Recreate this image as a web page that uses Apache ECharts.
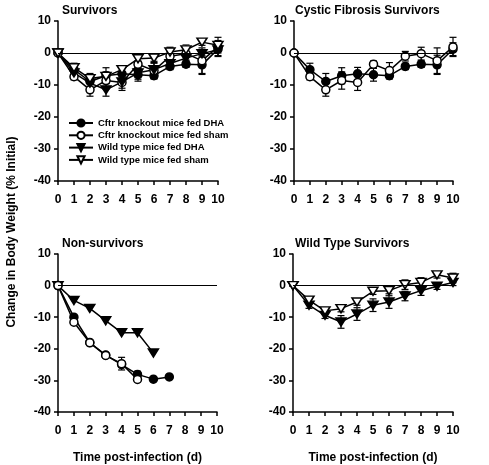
<!DOCTYPE html>
<html>
<head>
<meta charset="utf-8">
<script src="https://cdn.jsdelivr.net/npm/echarts@6/dist/echarts.min.js"></script>
<style>html,body{margin:0;padding:0;background:#fff;}#c{width:489px;height:465px;}</style>
</head>
<body>
<div id="c"></div>
<script>
const days = [0,1,2,3,4,5,6,7,8,9,10];
const yTicks = [10,0,-10,-20,-30,-40];
const names = ['Cftr knockout mice fed DHA','Cftr knockout mice fed sham','Wild type mice fed DHA','Wild type mice fed sham'];
const titles = ['Survivors','Cystic Fibrosis Survivors','Non-survivors','Wild Type Survivors'];

// Survivors (means and SEM)
const cfDha     = [0,-5.2,-8.9,-7.1,-6.5,-6.8,-7.1,-4.2,-3.5,-3.7,1.2];
const cfDhaErr  = [0,2.0,2.5,2.5,2.0,2.0,1.0,1.0,1.0,3.0,2.0];
const cfSham    = [0,-7.4,-11.5,-8.6,-9.2,-3.5,-5.5,-1.0,-0.2,-2.4,1.9];
const cfShamErr = [0,1.0,2.0,2.7,2.5,1.0,2.5,1.5,2.0,4.0,3.0];
const wtDha     = [0,-6.2,-9.4,-11.5,-9.0,-6.2,-5.2,-3.3,-1.6,-0.2,1.0];
const wtDhaErr  = [0,1.0,1.0,2.0,2.0,2.0,2.0,1.5,1.5,1.0,1.0];
const wtSham    = [0,-4.6,-8.0,-7.3,-5.2,-1.8,-1.6,0.3,1.0,3.4,2.4];
const wtShamErr = [0,1.0,1.0,1.0,1.0,1.0,1.0,1.5,1.5,1.0,1.5];

// Non-survivors
const nsCfDha     = [0,-10.0,-18.0,-22.0,-25.0,-28.1,-29.6,-28.9];
const nsCfDhaErr  = [0,0,0,0,0,1.0,0,0];
const nsCfSham    = [0,-11.6,-18.1,-22.1,-24.7,-29.7];
const nsCfShamErr = [0,0,0,0,2.0,0];
const nsWtDha     = [0,-4.7,-7.2,-11.1,-14.9,-14.9,-21.3];
const nsWtDhaErr  = [0,0,0,0,0,0,0];

const grids = [
  {left:58, top:21, width:160, height:160},
  {left:294, top:21, width:159, height:160},
  {left:58, top:254, width:159, height:160},
  {left:293, top:254, width:160, height:160}
];
const font = 'Liberation Sans, Arial, sans-serif';

const styles = {
  0: {symbol:'circle', fill:'#000', rotate:0, size:8},
  1: {symbol:'circle', fill:'#fff', rotate:0, size:8},
  2: {symbol:'triangle', fill:'#000', rotate:180, size:[10,8]},
  3: {symbol:'triangle', fill:'#fff', rotate:180, size:[10,8]}
};

function pairs(vals){ return vals.map((v,i)=>[days[i], v]); }

const series = [];
function addSeries(gi, si, vals, errs, withZero){
  const st = styles[si];
  series.push({
    type:'custom', xAxisIndex:gi, yAxisIndex:gi, z:2, silent:true,
    data: vals.map((v,i)=>[days[i], v, errs[i]]),
    renderItem: function(params, api){
      const x = api.value(0), y = api.value(1), e = api.value(2);
      if (!e) return {type:'group', children:[]};
      const top = api.coord([x, y + e]);
      const bot = api.coord([x, y - e]);
      const w = 3.5;
      const ls = {stroke:'#000', lineWidth:1.2};
      return {type:'group', children:[
        {type:'line', shape:{x1:top[0], y1:top[1], x2:bot[0], y2:bot[1]}, style:ls},
        {type:'line', shape:{x1:top[0]-w, y1:top[1], x2:top[0]+w, y2:top[1]}, style:ls},
        {type:'line', shape:{x1:bot[0]-w, y1:bot[1], x2:bot[0]+w, y2:bot[1]}, style:ls}
      ]};
    }
  });
  const s = {
    type:'line', name:names[si], xAxisIndex:gi, yAxisIndex:gi, z:3,
    data: pairs(vals),
    symbol: st.symbol, symbolSize: st.size, symbolRotate: st.rotate,
    lineStyle:{color:'#000', width:1.5},
    itemStyle:{color:st.fill, borderColor:'#000', borderWidth:1.5},
    showSymbol:true, animation:false
  };
  if (withZero) {
    s.markLine = {silent:true, symbol:'none', label:{show:false},
      lineStyle:{color:'#000', width:1.2, type:'solid'},
      data:[[{coord:[0,0]},{coord:[10,0]}]]};
  }
  series.push(s);
}

// Panel 0: all survivors
addSeries(0,0,cfDha,cfDhaErr,true);
addSeries(0,1,cfSham,cfShamErr,false);
addSeries(0,2,wtDha,wtDhaErr,false);
addSeries(0,3,wtSham,wtShamErr,false);
// Panel 1: CF survivors
addSeries(1,0,cfDha,cfDhaErr,true);
addSeries(1,1,cfSham,cfShamErr,false);
// Panel 2: non-survivors
addSeries(2,2,nsWtDha,nsWtDhaErr,true);
addSeries(2,0,nsCfDha,nsCfDhaErr,false);
addSeries(2,1,nsCfSham,nsCfShamErr,false);
// Panel 3: WT survivors
addSeries(3,2,wtDha,wtDhaErr,true);
addSeries(3,3,wtSham,wtShamErr,false);

const axisCommon = {
  axisLine:{show:true, onZero:false, lineStyle:{color:'#000', width:1.5}},
  axisTick:{show:true, inside:false, length:4, lineStyle:{color:'#000', width:1.5}},
  splitLine:{show:false}
};

const xAxes = grids.map((g,i)=>Object.assign({}, axisCommon, {
  type:'value', gridIndex:i, min:0, max:10, interval:1,
  axisLabel:{color:'#000', fontFamily:font, fontWeight:'bold', fontSize:12, margin:13},
  name: i>=2 ? 'Time post-infection (d)' : '',
  nameLocation:'middle', nameGap:40,
  nameTextStyle:{color:'#000', fontFamily:font, fontWeight:'bold', fontSize:12}
}));
const yAxes = grids.map((g,i)=>Object.assign({}, axisCommon, {
  type:'value', gridIndex:i, min:-40, max:10, interval:10,
  axisLabel:{color:'#000', fontFamily:font, fontWeight:'bold', fontSize:12, margin:7,
    formatter: v => String(yTicks[yTicks.indexOf(v)])}
}));

const titleOpts = [
  {text:titles[0], left:62, top:5},
  {text:titles[1], left:295, top:5},
  {text:titles[2], left:62, top:238},
  {text:titles[3], left:295, top:238}
].map(t=>Object.assign(t,{padding:0, textStyle:{color:'#000', fontFamily:font, fontWeight:'bold', fontSize:12}}));

const chart = echarts.init(document.getElementById('c'));
chart.setOption({
  animation:false,
  backgroundColor:'#fff',
  title: titleOpts,
  grid: grids,
  xAxis: xAxes,
  yAxis: yAxes,
  legend: {
    data: names, orient:'vertical', left:63, top:113, itemWidth:24, itemHeight:9, itemGap:2.3,
    selectedMode:false,
    textStyle:{color:'#000', fontFamily:font, fontWeight:'bold', fontSize:9.5}
  },
  graphic: [{
    type:'text', x:12, y:232, rotation:Math.PI/2, originX:0, originY:0,
    style:{text:'Change in Body Weight (% Initial)', fill:'#000', font:'bold 12px ' + font, align:'center', verticalAlign:'middle'}
  }],
  series: series
});
</script>
</body>
</html>
